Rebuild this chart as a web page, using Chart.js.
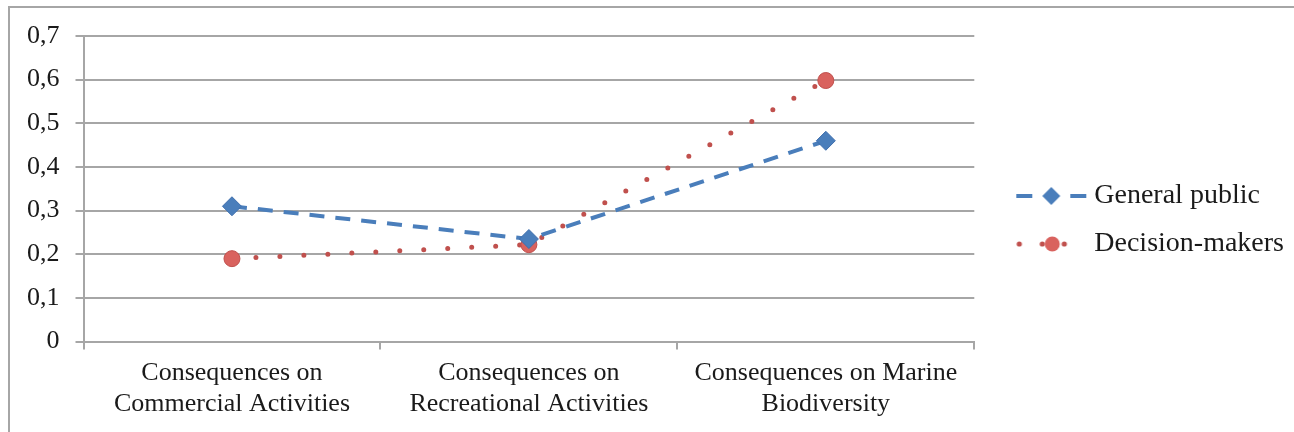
<!DOCTYPE html>
<html>
<head>
<meta charset="utf-8">
<script src="https://cdn.jsdelivr.net/npm/chart.js@4"></script>
<style>
  html, body { margin: 0; padding: 0; background: #fff; }
  #wrap { position: relative; width: 1294px; height: 432px; }
  #frame { position: absolute; left: 8px; top: 6px; right: 0; bottom: 0;
           border-left: 2px solid #a6a6a6; border-top: 2px solid #a6a6a6; }
  #chart { position: absolute; left: 0; top: 0; }
</style>
</head>
<body>
<div id="wrap">
  <div id="frame"></div>
  <canvas id="chart" width="1294" height="432"></canvas>
</div>
<script>
const categories = [
    ["Consequences on", "Commercial Activities"],
    ["Consequences on", "Recreational Activities"],
    ["Consequences on Marine", "Biodiversity"]
];
const generalPublic = [0.31, 0.235, 0.46];
const decisionMakers = [0.19, 0.222, 0.598];
const yTickLabels = ["0", "0,1", "0,2", "0,3", "0,4", "0,5", "0,6", "0,7"];

const BLUE = "#4a7ebb";
const RED = "#c0504d";
const GRID = "#a6a6a6";
const FONT = "'Liberation Serif', 'Times New Roman', serif";

// little legend samples: line + marker, like the office chart
function legendSample(kind) {
    let c = document.createElement("canvas");
    c.width = 100;
    c.height = 22;
    let ctx = c.getContext("2d");
    if (kind === "blue") {
        ctx.strokeStyle = BLUE;
        ctx.lineWidth = 4;
        ctx.beginPath(); ctx.moveTo(29, 11); ctx.lineTo(45, 11); ctx.stroke();
        ctx.beginPath(); ctx.moveTo(83, 11); ctx.lineTo(99, 11); ctx.stroke();
        ctx.fillStyle = BLUE;
        ctx.beginPath();
        ctx.moveTo(64, 2); ctx.lineTo(73, 11); ctx.lineTo(64, 20); ctx.lineTo(55, 11);
        ctx.closePath(); ctx.fill();
    } else {
        ctx.fillStyle = RED;
        for (const x of [32, 55, 77]) {
            ctx.beginPath(); ctx.arc(x, 11, 2.6, 0, Math.PI * 2); ctx.fill();
        }
        ctx.fillStyle = "#d9625e";
        ctx.beginPath(); ctx.arc(65, 11, 7.5, 0, Math.PI * 2); ctx.fill();
    }
    return c;
}

const samples = [legendSample("blue"), legendSample("red")];

new Chart(document.getElementById("chart"), {
    type: "line",
    data: {
        labels: categories,
        datasets: [{
            label: "General public",
            data: generalPublic,
            borderColor: BLUE,
            backgroundColor: BLUE,
            borderWidth: 4,
            borderDash: [15, 11],
            pointStyle: "rectRot",
            pointRadius: 9.5,
            pointBackgroundColor: BLUE,
            pointBorderColor: "#3f6fad",
            pointBorderWidth: 1,
            tension: 0
        }, {
            label: "Decision-makers",
            data: decisionMakers,
            borderColor: RED,
            backgroundColor: RED,
            borderWidth: 5,
            borderDash: [0, 24],
            borderCapStyle: "round",
            pointStyle: "circle",
            pointRadius: 8,
            pointBackgroundColor: "#d9625e",
            pointBorderColor: RED,
            pointBorderWidth: 1,
            tension: 0
        }]
    },
    options: {
        responsive: false,
        animation: false,
        layout: {
            padding: { top: 36, right: 0, bottom: 4, left: 11 }
        },
        scales: {
            x: {
                offset: true,
                grid: {
                    offset: true,
                    drawOnChartArea: false,
                    tickLength: 8,
                    color: GRID,
                    lineWidth: 2
                },
                border: { color: GRID, width: 2 },
                ticks: {
                    color: "#1a1a1a",
                    padding: 8,
                    maxRotation: 0,
                    autoSkip: false,
                    font: { family: FONT, size: 26, lineHeight: 1.2 }
                }
            },
            y: {
                min: 0,
                max: 0.7,
                grid: {
                    tickLength: 8,
                    color: GRID,
                    lineWidth: 2
                },
                border: { color: GRID, width: 2 },
                ticks: {
                    stepSize: 0.1,
                    padding: 16,
                    color: "#1a1a1a",
                    font: { family: FONT, size: 26 },
                    callback: (value, index) => yTickLabels[index]
                }
            }
        },
        plugins: {
            tooltip: { enabled: false },
            legend: {
                position: "right",
                align: "start",
                title: {
                    display: true,
                    text: " ",
                    font: { size: 10 },
                    padding: { top: 57, bottom: 57 }
                },
                labels: {
                    usePointStyle: true,
                    pointStyleWidth: 86,
                    padding: 20,
                    color: "#1a1a1a",
                    font: { family: FONT, size: 28 },
                    generateLabels: (chart) => chart.data.datasets.map((ds, i) => ({
                        text: ds.label,
                        pointStyle: samples[i],
                        fillStyle: ds.borderColor,
                        strokeStyle: ds.borderColor,
                        lineWidth: 0,
                        fontColor: "#1a1a1a",
                        datasetIndex: i,
                        hidden: false
                    }))
                }
            }
        }
    }
});
</script>
</body>
</html>
